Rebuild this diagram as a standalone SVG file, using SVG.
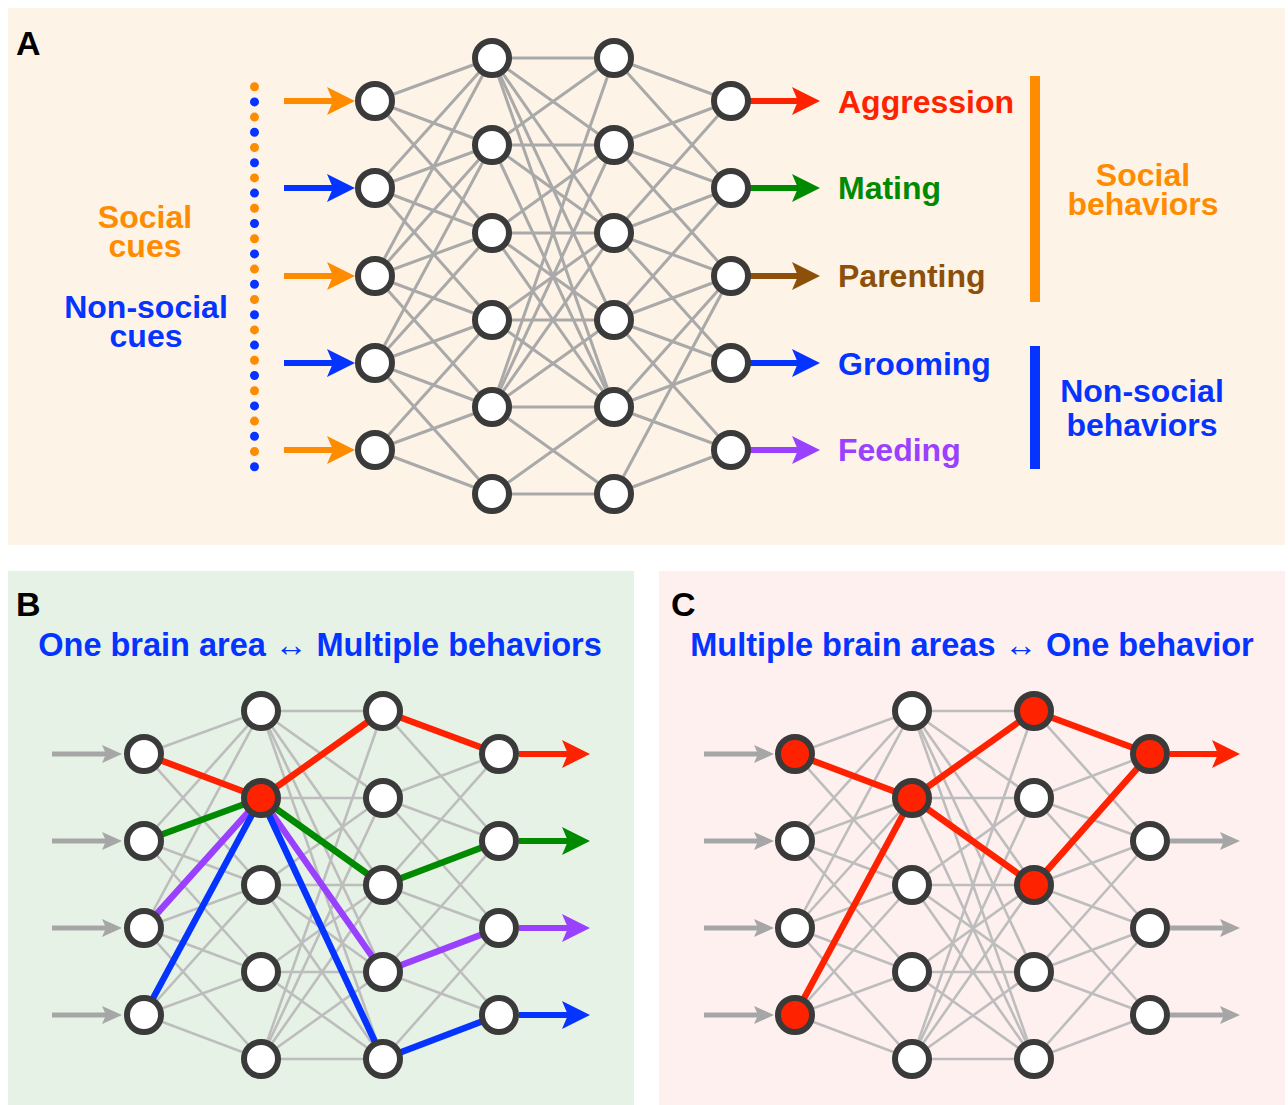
<svg xmlns="http://www.w3.org/2000/svg" width="1288" height="1105" viewBox="0 0 1288 1105">
  <style>
    .lbl { font-family: "Liberation Sans", Arial, sans-serif; font-weight: bold; }
    .panel { font-size: 34px; fill: #000; }
    .t32 { font-size: 32px; }
    .title { font-size: 32.5px; }
    .mid { text-anchor: middle; }
    .orange { fill: #ff8c00; }
    .blue { fill: #0533ff; }
    .red { fill: #ff2200; }
    .green { fill: #008a00; }
    .brown { fill: #8c500a; }
    .purple { fill: #9a40ff; }
    .edgeA line { stroke: #a9a9a9; stroke-width: 3; }
    .edgeBC line { stroke: #bdbdbd; stroke-width: 2.6; }
    .node circle { fill: #ffffff; stroke: #3a3a3a; stroke-width: 6; }
    .node.on circle { fill: #ff2200; }
    .hl { fill: none; stroke-width: 6.5; stroke-linejoin: round; }
    .arr { stroke-width: 6; }
    .arrg { stroke: #a6a6a6; stroke-width: 5; }
  </style>
  <defs>
    <marker id="hOrange" markerUnits="userSpaceOnUse" markerWidth="28" markerHeight="28" refX="8" refY="14" orient="auto"><path d="M0,0 L28,14 L0,28 L6,14 z" fill="#ff8c00"/></marker>
    <marker id="hBlue" markerUnits="userSpaceOnUse" markerWidth="28" markerHeight="28" refX="8" refY="14" orient="auto"><path d="M0,0 L28,14 L0,28 L6,14 z" fill="#0533ff"/></marker>
    <marker id="hRed" markerUnits="userSpaceOnUse" markerWidth="28" markerHeight="28" refX="8" refY="14" orient="auto"><path d="M0,0 L28,14 L0,28 L6,14 z" fill="#ff2200"/></marker>
    <marker id="hGreen" markerUnits="userSpaceOnUse" markerWidth="28" markerHeight="28" refX="8" refY="14" orient="auto"><path d="M0,0 L28,14 L0,28 L6,14 z" fill="#008a00"/></marker>
    <marker id="hBrown" markerUnits="userSpaceOnUse" markerWidth="28" markerHeight="28" refX="8" refY="14" orient="auto"><path d="M0,0 L28,14 L0,28 L6,14 z" fill="#8c500a"/></marker>
    <marker id="hPurple" markerUnits="userSpaceOnUse" markerWidth="28" markerHeight="28" refX="8" refY="14" orient="auto"><path d="M0,0 L28,14 L0,28 L6,14 z" fill="#9a40ff"/></marker>
    <marker id="hGray" markerUnits="userSpaceOnUse" markerWidth="20" markerHeight="20" refX="6" refY="9" orient="auto"><path d="M0,0 L20,9 L0,18 L4,9 z" fill="#a6a6a6"/></marker>
  </defs>

  <!-- panel backgrounds -->
  <rect x="8" y="8" width="1277" height="537" fill="#fdf3e6"/>
  <rect x="8" y="571" width="626" height="534" fill="#e6f2e6"/>
  <rect x="659" y="571" width="626" height="534" fill="#fdf0ef"/>

  <!-- ===== Panel A ===== -->
  <text class="lbl panel" x="16" y="55">A</text>

  <g id="cue-labels">
    <text class="lbl t32 mid orange"><tspan x="145" y="228">Social</tspan><tspan x="145" y="257">cues</tspan></text>
    <text class="lbl t32 mid blue"><tspan x="146" y="318">Non-social</tspan><tspan x="146" y="347">cues</tspan></text>
  </g>

  <!-- alternating cue dots -->
  <g id="cue-dots" stroke-linecap="round" stroke-width="9">
    <line x1="254.5" y1="86.7" x2="254.5" y2="452" stroke="#ff8c00" stroke-dasharray="0 30.4"/>
    <line x1="254.5" y1="101.9" x2="254.5" y2="467" stroke="#0533ff" stroke-dasharray="0 30.4"/>
  </g>

  <g id="connectors-A">
    <g class="edgeA">
      <!-- layer 1 to layer 2 -->
      <line x1="375" y1="101" x2="492" y2="58"/>
      <line x1="375" y1="101" x2="492" y2="145"/>
      <line x1="375" y1="101" x2="492" y2="233"/>
      <line x1="375" y1="188" x2="492" y2="58"/>
      <line x1="375" y1="188" x2="492" y2="145"/>
      <line x1="375" y1="188" x2="492" y2="233"/>
      <line x1="375" y1="188" x2="492" y2="320"/>
      <line x1="375" y1="276" x2="492" y2="58"/>
      <line x1="375" y1="276" x2="492" y2="145"/>
      <line x1="375" y1="276" x2="492" y2="233"/>
      <line x1="375" y1="276" x2="492" y2="320"/>
      <line x1="375" y1="276" x2="492" y2="407"/>
      <line x1="375" y1="363" x2="492" y2="145"/>
      <line x1="375" y1="363" x2="492" y2="233"/>
      <line x1="375" y1="363" x2="492" y2="320"/>
      <line x1="375" y1="363" x2="492" y2="407"/>
      <line x1="375" y1="363" x2="492" y2="494"/>
      <line x1="375" y1="450" x2="492" y2="320"/>
      <line x1="375" y1="450" x2="492" y2="407"/>
      <line x1="375" y1="450" x2="492" y2="494"/>
      <!-- layer 2 to layer 3 -->
      <line x1="492" y1="58" x2="614" y2="58"/>
      <line x1="492" y1="58" x2="614" y2="145"/>
      <line x1="492" y1="58" x2="614" y2="233"/>
      <line x1="492" y1="58" x2="614" y2="320"/>
      <line x1="492" y1="58" x2="614" y2="407"/>
      <line x1="492" y1="145" x2="614" y2="58"/>
      <line x1="492" y1="145" x2="614" y2="145"/>
      <line x1="492" y1="145" x2="614" y2="233"/>
      <line x1="492" y1="145" x2="614" y2="407"/>
      <line x1="492" y1="233" x2="614" y2="145"/>
      <line x1="492" y1="233" x2="614" y2="233"/>
      <line x1="492" y1="233" x2="614" y2="320"/>
      <line x1="492" y1="233" x2="614" y2="407"/>
      <line x1="492" y1="320" x2="614" y2="233"/>
      <line x1="492" y1="320" x2="614" y2="320"/>
      <line x1="492" y1="320" x2="614" y2="407"/>
      <line x1="492" y1="407" x2="614" y2="58"/>
      <line x1="492" y1="407" x2="614" y2="145"/>
      <line x1="492" y1="407" x2="614" y2="233"/>
      <line x1="492" y1="407" x2="614" y2="320"/>
      <line x1="492" y1="407" x2="614" y2="407"/>
      <line x1="492" y1="407" x2="614" y2="494"/>
      <line x1="492" y1="494" x2="614" y2="407"/>
      <line x1="492" y1="494" x2="614" y2="494"/>
      <!-- layer 3 to layer 4 -->
      <line x1="614" y1="58" x2="731" y2="101"/>
      <line x1="614" y1="58" x2="731" y2="188"/>
      <line x1="614" y1="145" x2="731" y2="101"/>
      <line x1="614" y1="145" x2="731" y2="188"/>
      <line x1="614" y1="145" x2="731" y2="276"/>
      <line x1="614" y1="233" x2="731" y2="101"/>
      <line x1="614" y1="233" x2="731" y2="188"/>
      <line x1="614" y1="233" x2="731" y2="276"/>
      <line x1="614" y1="233" x2="731" y2="363"/>
      <line x1="614" y1="320" x2="731" y2="188"/>
      <line x1="614" y1="320" x2="731" y2="276"/>
      <line x1="614" y1="320" x2="731" y2="363"/>
      <line x1="614" y1="320" x2="731" y2="450"/>
      <line x1="614" y1="407" x2="731" y2="276"/>
      <line x1="614" y1="407" x2="731" y2="363"/>
      <line x1="614" y1="407" x2="731" y2="450"/>
      <line x1="614" y1="494" x2="731" y2="276"/>
      <line x1="614" y1="494" x2="731" y2="450"/>
    </g>
    <!-- input arrows -->
    <line class="arr" x1="284" y1="101" x2="335" y2="101" stroke="#ff8c00" marker-end="url(#hOrange)"/>
    <line class="arr" x1="284" y1="188" x2="335" y2="188" stroke="#0533ff" marker-end="url(#hBlue)"/>
    <line class="arr" x1="284" y1="276" x2="335" y2="276" stroke="#ff8c00" marker-end="url(#hOrange)"/>
    <line class="arr" x1="284" y1="363" x2="335" y2="363" stroke="#0533ff" marker-end="url(#hBlue)"/>
    <line class="arr" x1="284" y1="450" x2="335" y2="450" stroke="#ff8c00" marker-end="url(#hOrange)"/>
    <!-- output arrows -->
    <line class="arr" x1="750" y1="101" x2="800" y2="101" stroke="#ff2200" marker-end="url(#hRed)"/>
    <line class="arr" x1="750" y1="188" x2="800" y2="188" stroke="#008a00" marker-end="url(#hGreen)"/>
    <line class="arr" x1="750" y1="276" x2="800" y2="276" stroke="#8c500a" marker-end="url(#hBrown)"/>
    <line class="arr" x1="750" y1="363" x2="800" y2="363" stroke="#0533ff" marker-end="url(#hBlue)"/>
    <line class="arr" x1="750" y1="450" x2="800" y2="450" stroke="#9a40ff" marker-end="url(#hPurple)"/>
  </g>

  <!-- layer nodes, panel A -->
  <g id="A-in-0" class="node"><circle cx="375" cy="101" r="17"/></g>
  <g id="A-in-1" class="node"><circle cx="375" cy="188" r="17"/></g>
  <g id="A-in-2" class="node"><circle cx="375" cy="276" r="17"/></g>
  <g id="A-in-3" class="node"><circle cx="375" cy="363" r="17"/></g>
  <g id="A-in-4" class="node"><circle cx="375" cy="450" r="17"/></g>
  <g id="A-h1-0" class="node"><circle cx="492" cy="58" r="17"/></g>
  <g id="A-h1-1" class="node"><circle cx="492" cy="145" r="17"/></g>
  <g id="A-h1-2" class="node"><circle cx="492" cy="233" r="17"/></g>
  <g id="A-h1-3" class="node"><circle cx="492" cy="320" r="17"/></g>
  <g id="A-h1-4" class="node"><circle cx="492" cy="407" r="17"/></g>
  <g id="A-h1-5" class="node"><circle cx="492" cy="494" r="17"/></g>
  <g id="A-h2-0" class="node"><circle cx="614" cy="58" r="17"/></g>
  <g id="A-h2-1" class="node"><circle cx="614" cy="145" r="17"/></g>
  <g id="A-h2-2" class="node"><circle cx="614" cy="233" r="17"/></g>
  <g id="A-h2-3" class="node"><circle cx="614" cy="320" r="17"/></g>
  <g id="A-h2-4" class="node"><circle cx="614" cy="407" r="17"/></g>
  <g id="A-h2-5" class="node"><circle cx="614" cy="494" r="17"/></g>
  <g id="A-out-0" class="node"><circle cx="731" cy="101" r="17"/></g>
  <g id="A-out-1" class="node"><circle cx="731" cy="188" r="17"/></g>
  <g id="A-out-2" class="node"><circle cx="731" cy="276" r="17"/></g>
  <g id="A-out-3" class="node"><circle cx="731" cy="363" r="17"/></g>
  <g id="A-out-4" class="node"><circle cx="731" cy="450" r="17"/></g>

  <g id="behavior-labels">
    <text class="lbl t32 red" x="838" y="113">Aggression</text>
    <text class="lbl t32 green" x="838" y="199">Mating</text>
    <text class="lbl t32 brown" x="838" y="287">Parenting</text>
    <text class="lbl t32 blue" x="838" y="375">Grooming</text>
    <text class="lbl t32 purple" x="838" y="461">Feeding</text>
  </g>

  <g id="behavior-groups">
    <rect x="1030" y="76" width="10" height="226" fill="#ff8c00"/>
    <rect x="1030" y="346" width="10" height="123" fill="#0533ff"/>
    <text class="lbl t32 mid orange"><tspan x="1143" y="186">Social</tspan><tspan x="1143" y="215">behaviors</tspan></text>
    <text class="lbl t32 mid blue"><tspan x="1142" y="402">Non-social</tspan><tspan x="1142" y="436">behaviors</tspan></text>
  </g>

  <!-- ===== Panel B ===== -->
  <text class="lbl panel" x="16" y="616">B</text>
  <text class="lbl title mid blue" x="320" y="656">One brain area ↔ Multiple behaviors</text>

  <g id="connectors-B">
    <g class="edgeBC">
      <line x1="144" y1="754" x2="261" y2="711"/>
      <line x1="144" y1="754" x2="261" y2="798"/>
      <line x1="144" y1="754" x2="261" y2="885"/>
      <line x1="144" y1="841" x2="261" y2="711"/>
      <line x1="144" y1="841" x2="261" y2="798"/>
      <line x1="144" y1="841" x2="261" y2="885"/>
      <line x1="144" y1="841" x2="261" y2="972"/>
      <line x1="144" y1="928" x2="261" y2="711"/>
      <line x1="144" y1="928" x2="261" y2="798"/>
      <line x1="144" y1="928" x2="261" y2="885"/>
      <line x1="144" y1="928" x2="261" y2="972"/>
      <line x1="144" y1="928" x2="261" y2="1059"/>
      <line x1="144" y1="1015" x2="261" y2="798"/>
      <line x1="144" y1="1015" x2="261" y2="885"/>
      <line x1="144" y1="1015" x2="261" y2="972"/>
      <line x1="144" y1="1015" x2="261" y2="1059"/>

      <line x1="261" y1="711" x2="383" y2="711"/>
      <line x1="261" y1="711" x2="383" y2="798"/>
      <line x1="261" y1="711" x2="383" y2="885"/>
      <line x1="261" y1="711" x2="383" y2="972"/>
      <line x1="261" y1="711" x2="383" y2="1059"/>
      <line x1="261" y1="798" x2="383" y2="711"/>
      <line x1="261" y1="798" x2="383" y2="798"/>
      <line x1="261" y1="798" x2="383" y2="885"/>
      <line x1="261" y1="798" x2="383" y2="1059"/>
      <line x1="261" y1="885" x2="383" y2="798"/>
      <line x1="261" y1="885" x2="383" y2="885"/>
      <line x1="261" y1="885" x2="383" y2="972"/>
      <line x1="261" y1="885" x2="383" y2="1059"/>
      <line x1="261" y1="972" x2="383" y2="885"/>
      <line x1="261" y1="972" x2="383" y2="972"/>
      <line x1="261" y1="972" x2="383" y2="1059"/>
      <line x1="261" y1="1059" x2="383" y2="711"/>
      <line x1="261" y1="1059" x2="383" y2="798"/>
      <line x1="261" y1="1059" x2="383" y2="885"/>
      <line x1="261" y1="1059" x2="383" y2="972"/>
      <line x1="261" y1="1059" x2="383" y2="1059"/>

      <line x1="383" y1="711" x2="499" y2="754"/>
      <line x1="383" y1="711" x2="499" y2="841"/>
      <line x1="383" y1="798" x2="499" y2="754"/>
      <line x1="383" y1="798" x2="499" y2="841"/>
      <line x1="383" y1="798" x2="499" y2="928"/>
      <line x1="383" y1="885" x2="499" y2="754"/>
      <line x1="383" y1="885" x2="499" y2="841"/>
      <line x1="383" y1="885" x2="499" y2="928"/>
      <line x1="383" y1="885" x2="499" y2="1015"/>
      <line x1="383" y1="972" x2="499" y2="841"/>
      <line x1="383" y1="972" x2="499" y2="928"/>
      <line x1="383" y1="972" x2="499" y2="1015"/>
      <line x1="383" y1="1059" x2="499" y2="928"/>
      <line x1="383" y1="1059" x2="499" y2="1015"/>
    </g>
    <!-- paths through the shared hub -->
    <polyline class="hl" stroke="#ff2200" points="144,754 261,798 383,711 499,754"/>
    <polyline class="hl" stroke="#008a00" points="144,841 261,798 383,885 499,841"/>
    <polyline class="hl" stroke="#9a40ff" points="144,928 261,798 383,972 499,928"/>
    <polyline class="hl" stroke="#0533ff" points="144,1015 261,798 383,1059 499,1015"/>
    <!-- inputs / outputs -->
    <line class="arrg" x1="52" y1="754" x2="108" y2="754" marker-end="url(#hGray)"/>
    <line class="arrg" x1="52" y1="841" x2="108" y2="841" marker-end="url(#hGray)"/>
    <line class="arrg" x1="52" y1="928" x2="108" y2="928" marker-end="url(#hGray)"/>
    <line class="arrg" x1="52" y1="1015" x2="108" y2="1015" marker-end="url(#hGray)"/>
    <line class="arr" x1="519" y1="754" x2="570" y2="754" stroke="#ff2200" marker-end="url(#hRed)"/>
    <line class="arr" x1="519" y1="841" x2="570" y2="841" stroke="#008a00" marker-end="url(#hGreen)"/>
    <line class="arr" x1="519" y1="928" x2="570" y2="928" stroke="#9a40ff" marker-end="url(#hPurple)"/>
    <line class="arr" x1="519" y1="1015" x2="570" y2="1015" stroke="#0533ff" marker-end="url(#hBlue)"/>
  </g>

  <g id="B-in-0" class="node"><circle cx="144" cy="754" r="17"/></g>
  <g id="B-in-1" class="node"><circle cx="144" cy="841" r="17"/></g>
  <g id="B-in-2" class="node"><circle cx="144" cy="928" r="17"/></g>
  <g id="B-in-3" class="node"><circle cx="144" cy="1015" r="17"/></g>
  <g id="B-h1-0" class="node"><circle cx="261" cy="711" r="17"/></g>
  <g id="B-h1-1" class="node on"><circle cx="261" cy="798" r="17"/></g>
  <g id="B-h1-2" class="node"><circle cx="261" cy="885" r="17"/></g>
  <g id="B-h1-3" class="node"><circle cx="261" cy="972" r="17"/></g>
  <g id="B-h1-4" class="node"><circle cx="261" cy="1059" r="17"/></g>
  <g id="B-h2-0" class="node"><circle cx="383" cy="711" r="17"/></g>
  <g id="B-h2-1" class="node"><circle cx="383" cy="798" r="17"/></g>
  <g id="B-h2-2" class="node"><circle cx="383" cy="885" r="17"/></g>
  <g id="B-h2-3" class="node"><circle cx="383" cy="972" r="17"/></g>
  <g id="B-h2-4" class="node"><circle cx="383" cy="1059" r="17"/></g>
  <g id="B-out-0" class="node"><circle cx="499" cy="754" r="17"/></g>
  <g id="B-out-1" class="node"><circle cx="499" cy="841" r="17"/></g>
  <g id="B-out-2" class="node"><circle cx="499" cy="928" r="17"/></g>
  <g id="B-out-3" class="node"><circle cx="499" cy="1015" r="17"/></g>

  <!-- ===== Panel C ===== -->
  <text class="lbl panel" x="671" y="616">C</text>
  <text class="lbl title mid blue" x="972" y="656">Multiple brain areas ↔ One behavior</text>

  <g id="connectors-C">
    <g class="edgeBC">
      <line x1="795" y1="754" x2="912" y2="711"/>
      <line x1="795" y1="754" x2="912" y2="798"/>
      <line x1="795" y1="754" x2="912" y2="885"/>
      <line x1="795" y1="841" x2="912" y2="711"/>
      <line x1="795" y1="841" x2="912" y2="798"/>
      <line x1="795" y1="841" x2="912" y2="885"/>
      <line x1="795" y1="841" x2="912" y2="972"/>
      <line x1="795" y1="928" x2="912" y2="711"/>
      <line x1="795" y1="928" x2="912" y2="798"/>
      <line x1="795" y1="928" x2="912" y2="885"/>
      <line x1="795" y1="928" x2="912" y2="972"/>
      <line x1="795" y1="928" x2="912" y2="1059"/>
      <line x1="795" y1="1015" x2="912" y2="798"/>
      <line x1="795" y1="1015" x2="912" y2="885"/>
      <line x1="795" y1="1015" x2="912" y2="972"/>
      <line x1="795" y1="1015" x2="912" y2="1059"/>

      <line x1="912" y1="711" x2="1034" y2="711"/>
      <line x1="912" y1="711" x2="1034" y2="798"/>
      <line x1="912" y1="711" x2="1034" y2="885"/>
      <line x1="912" y1="711" x2="1034" y2="972"/>
      <line x1="912" y1="711" x2="1034" y2="1059"/>
      <line x1="912" y1="798" x2="1034" y2="711"/>
      <line x1="912" y1="798" x2="1034" y2="798"/>
      <line x1="912" y1="798" x2="1034" y2="885"/>
      <line x1="912" y1="798" x2="1034" y2="1059"/>
      <line x1="912" y1="885" x2="1034" y2="798"/>
      <line x1="912" y1="885" x2="1034" y2="885"/>
      <line x1="912" y1="885" x2="1034" y2="972"/>
      <line x1="912" y1="885" x2="1034" y2="1059"/>
      <line x1="912" y1="972" x2="1034" y2="885"/>
      <line x1="912" y1="972" x2="1034" y2="972"/>
      <line x1="912" y1="972" x2="1034" y2="1059"/>
      <line x1="912" y1="1059" x2="1034" y2="711"/>
      <line x1="912" y1="1059" x2="1034" y2="798"/>
      <line x1="912" y1="1059" x2="1034" y2="885"/>
      <line x1="912" y1="1059" x2="1034" y2="972"/>
      <line x1="912" y1="1059" x2="1034" y2="1059"/>

      <line x1="1034" y1="711" x2="1150" y2="754"/>
      <line x1="1034" y1="711" x2="1150" y2="841"/>
      <line x1="1034" y1="798" x2="1150" y2="754"/>
      <line x1="1034" y1="798" x2="1150" y2="841"/>
      <line x1="1034" y1="798" x2="1150" y2="928"/>
      <line x1="1034" y1="885" x2="1150" y2="754"/>
      <line x1="1034" y1="885" x2="1150" y2="841"/>
      <line x1="1034" y1="885" x2="1150" y2="928"/>
      <line x1="1034" y1="885" x2="1150" y2="1015"/>
      <line x1="1034" y1="972" x2="1150" y2="841"/>
      <line x1="1034" y1="972" x2="1150" y2="928"/>
      <line x1="1034" y1="972" x2="1150" y2="1015"/>
      <line x1="1034" y1="1059" x2="1150" y2="928"/>
      <line x1="1034" y1="1059" x2="1150" y2="1015"/>
    </g>
    <!-- converging paths onto one output -->
    <g class="hl" stroke="#ff2200">
      <line x1="795" y1="754" x2="912" y2="798"/>
      <line x1="795" y1="1015" x2="912" y2="798"/>
      <line x1="912" y1="798" x2="1034" y2="711"/>
      <line x1="912" y1="798" x2="1034" y2="885"/>
      <line x1="1034" y1="711" x2="1150" y2="754"/>
      <line x1="1034" y1="885" x2="1150" y2="754"/>
    </g>
    <line class="arrg" x1="704" y1="754" x2="760" y2="754" marker-end="url(#hGray)"/>
    <line class="arrg" x1="704" y1="841" x2="760" y2="841" marker-end="url(#hGray)"/>
    <line class="arrg" x1="704" y1="928" x2="760" y2="928" marker-end="url(#hGray)"/>
    <line class="arrg" x1="704" y1="1015" x2="760" y2="1015" marker-end="url(#hGray)"/>
    <line class="arr" x1="1170" y1="754" x2="1220" y2="754" stroke="#ff2200" marker-end="url(#hRed)"/>
    <line class="arrg" x1="1170" y1="841" x2="1226" y2="841" marker-end="url(#hGray)"/>
    <line class="arrg" x1="1170" y1="928" x2="1226" y2="928" marker-end="url(#hGray)"/>
    <line class="arrg" x1="1170" y1="1015" x2="1226" y2="1015" marker-end="url(#hGray)"/>
  </g>

  <g id="C-in-0" class="node on"><circle cx="795" cy="754" r="17"/></g>
  <g id="C-in-1" class="node"><circle cx="795" cy="841" r="17"/></g>
  <g id="C-in-2" class="node"><circle cx="795" cy="928" r="17"/></g>
  <g id="C-in-3" class="node on"><circle cx="795" cy="1015" r="17"/></g>
  <g id="C-h1-0" class="node"><circle cx="912" cy="711" r="17"/></g>
  <g id="C-h1-1" class="node on"><circle cx="912" cy="798" r="17"/></g>
  <g id="C-h1-2" class="node"><circle cx="912" cy="885" r="17"/></g>
  <g id="C-h1-3" class="node"><circle cx="912" cy="972" r="17"/></g>
  <g id="C-h1-4" class="node"><circle cx="912" cy="1059" r="17"/></g>
  <g id="C-h2-0" class="node on"><circle cx="1034" cy="711" r="17"/></g>
  <g id="C-h2-1" class="node"><circle cx="1034" cy="798" r="17"/></g>
  <g id="C-h2-2" class="node on"><circle cx="1034" cy="885" r="17"/></g>
  <g id="C-h2-3" class="node"><circle cx="1034" cy="972" r="17"/></g>
  <g id="C-h2-4" class="node"><circle cx="1034" cy="1059" r="17"/></g>
  <g id="C-out-0" class="node on"><circle cx="1150" cy="754" r="17"/></g>
  <g id="C-out-1" class="node"><circle cx="1150" cy="841" r="17"/></g>
  <g id="C-out-2" class="node"><circle cx="1150" cy="928" r="17"/></g>
  <g id="C-out-3" class="node"><circle cx="1150" cy="1015" r="17"/></g>
</svg>
